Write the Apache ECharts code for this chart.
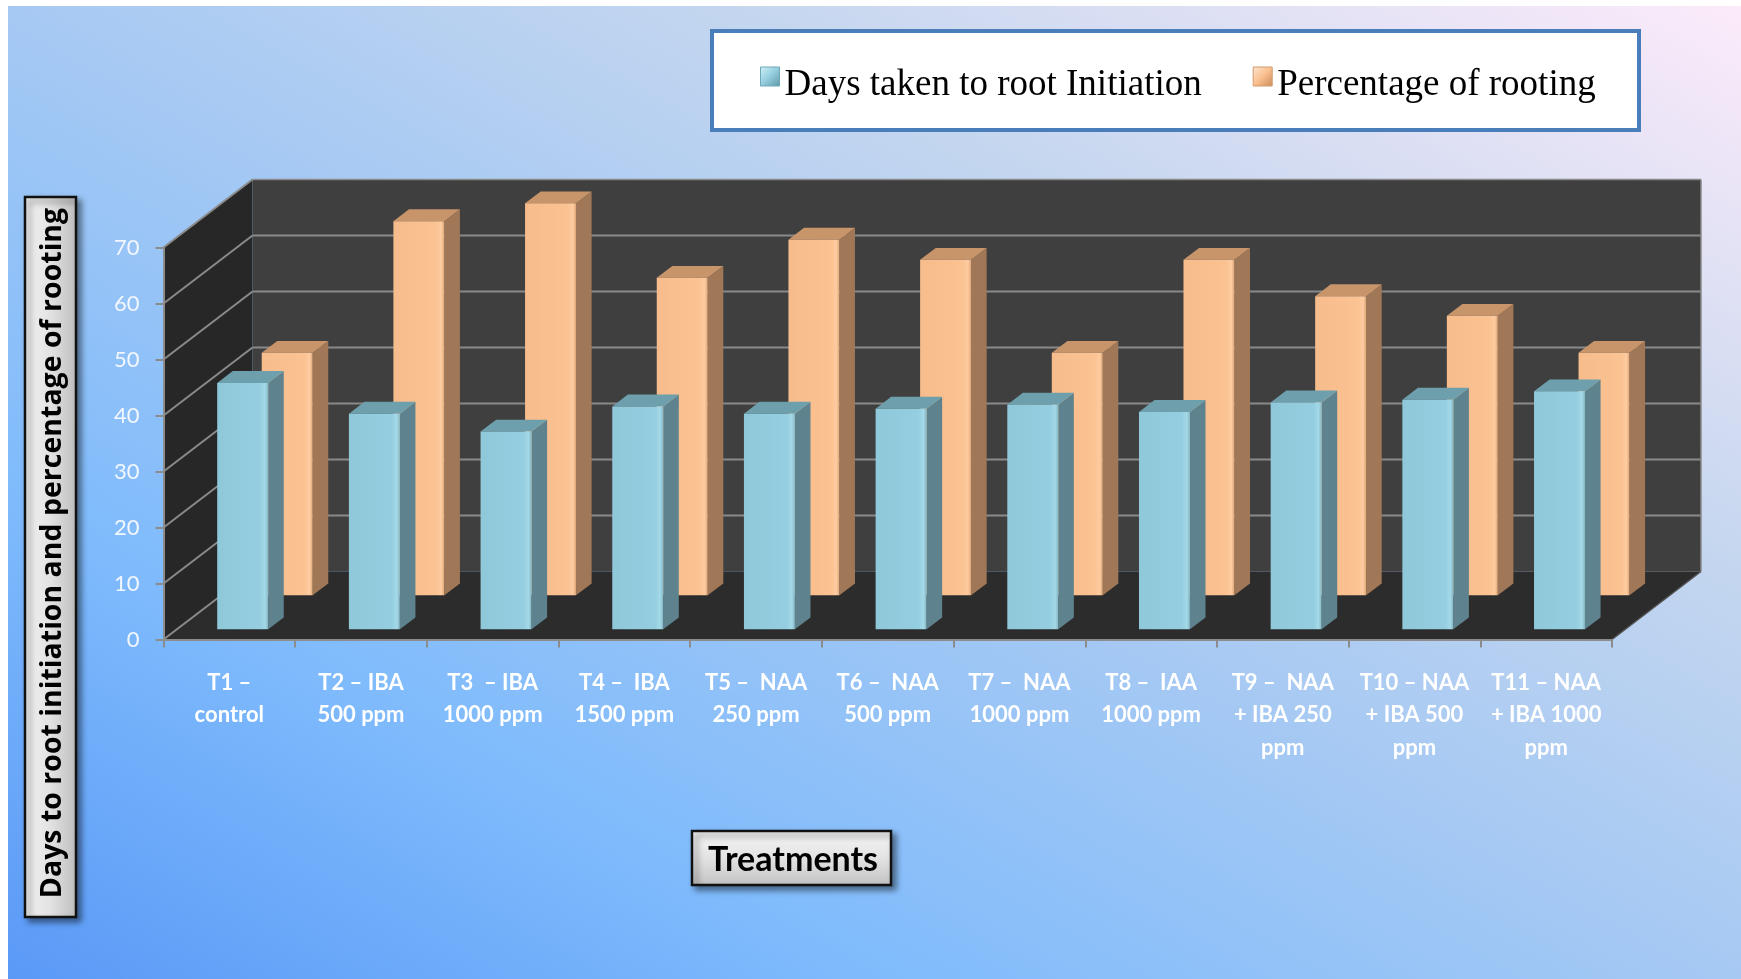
<!DOCTYPE html>
<html>
<head>
<meta charset="utf-8">
<title>Days to root initiation and percentage of rooting</title>
<script src="https://cdn.jsdelivr.net/npm/echarts@6/dist/echarts.min.js"></script>
<style>
  html, body { margin: 0; padding: 0; background: #fff; }
  #chart { width: 1741px; height: 979px; }
</style>
</head>
<body>
<div id="chart"></div>
<script>
// data
const categories = [
  'T1 –\ncontrol',
  'T2 – IBA\n500 ppm',
  'T3  – IBA\n1000 ppm',
  'T4 –  IBA\n1500 ppm',
  'T5 –  NAA\n250 ppm',
  'T6 –  NAA\n500 ppm',
  'T7 –  NAA\n1000 ppm',
  'T8 –  IAA\n1000 ppm',
  'T9 –  NAA\n+ IBA 250\nppm',
  'T10 – NAA\n+ IBA 500\nppm',
  'T11 – NAA\n+ IBA 1000\nppm'
];
const daysToRoot = [44.0, 38.5, 35.3, 39.8, 38.5, 39.4, 40.1, 38.8, 40.5, 41.0, 42.5];
const rootingPct = [43.3, 66.8, 70.0, 56.7, 63.5, 59.9, 43.3, 59.9, 53.4, 49.9, 43.3];
const yTicks = [0, 10, 20, 30, 40, 50, 60, 70];

const seriesNames = ['Days taken to root Initiation', 'Percentage of rooting'];

// fake 3d: full depth offset in px, rows as [front, back] fraction of depth
const DEPTH = [89, -68];
const ROW_FRONT = [0.15, 0.325];
const ROW_BACK = [0.65, 0.825];
const BAR_RATIO = 0.387;

const blueFaces = {
  front: { type: 'linear', x: 0, y: 0, x2: 1, y2: 0, colorStops: [
    { offset: 0, color: '#8fc8d9' }, { offset: 0.84, color: '#94cee0' },
    { offset: 0.94, color: '#a4d9e8' }, { offset: 1, color: '#84b6c4' }] },
  side: '#5e838e',
  top: '#6d9fad'
};
const orangeFaces = {
  front: { type: 'linear', x: 0, y: 0, x2: 1, y2: 0, colorStops: [
    { offset: 0, color: '#f7bc8b' }, { offset: 0.84, color: '#fbc292' },
    { offset: 0.94, color: '#fdcca1' }, { offset: 1, color: '#dea676' }] },
  side: '#a07858',
  top: '#c8956b'
};

function barRenderer(row, faces) {
  return function (params, api) {
    const i = api.value(0);
    const v = api.value(1);
    const band = api.size([1, 0])[0];
    const w = band * BAR_RATIO;
    const base = api.coord([i, 0]);
    const top = api.coord([i, v]);
    const ox = DEPTH[0] * row[0], oy = DEPTH[1] * row[0];
    const dx = DEPTH[0] * (row[1] - row[0]), dy = DEPTH[1] * (row[1] - row[0]);
    const xl = base[0] - w / 2 + ox, xr = xl + w;
    const yb = base[1] + oy, yt = top[1] + oy;
    return {
      type: 'group',
      children: [
        { type: 'polygon', shape: { points: [[xr, yb], [xr, yt], [xr + dx, yt + dy], [xr + dx, yb + dy]] },
          style: { fill: faces.side } },
        { type: 'polygon', shape: { points: [[xl, yt], [xr, yt], [xr + dx, yt + dy], [xl + dx, yt + dy]] },
          style: { fill: faces.top } },
        { type: 'rect', shape: { x: xl, y: yt, width: w, height: yb - yt },
          style: { fill: faces.front } }
      ]
    };
  };
}

// walls, floor and gridlines of the 3d box
function frameRenderer(params, api) {
  const cs = params.coordSys;
  const x0 = cs.x, x1 = cs.x + cs.width;
  const dx = DEPTH[0], dy = DEPTH[1];
  const y0 = api.coord([0, yTicks[0]])[1];
  const yT = api.coord([0, yTicks[yTicks.length - 1]])[1];
  const children = [
    { type: 'polygon', shape: { points: [[x0, y0], [x0, yT], [x0 + dx, yT + dy], [x0 + dx, y0 + dy]] },
      style: { fill: '#272727' } },
    { type: 'rect', shape: { x: x0 + dx, y: yT + dy, width: x1 - x0, height: y0 - yT },
      style: { fill: '#3f3f3f' } },
    { type: 'polygon', shape: { points: [[x0, y0], [x1, y0], [x1 + dx, y0 + dy], [x0 + dx, y0 + dy]] },
      style: { fill: '#2c2c2c' } }
  ];
  yTicks.forEach(function (t) {
    const y = api.coord([0, t])[1];
    children.push({ type: 'line', shape: { x1: x0, y1: y, x2: x0 + dx, y2: y + dy },
      style: { stroke: '#8a8a8a', lineWidth: 2 } });
    if (t > yTicks[0]) {
      children.push({ type: 'line', shape: { x1: x0 + dx, y1: y + dy, x2: x1 + dx, y2: y + dy },
        style: { stroke: '#8a8a8a', lineWidth: t === yTicks[yTicks.length - 1] ? 1.5 : 2 } });
    }
  });
  children.push({ type: 'line', shape: { x1: x1 + dx, y1: yT + dy, x2: x1 + dx, y2: y0 + dy },
    style: { stroke: '#8a8a8a', lineWidth: 1.5 } });
  children.push({ type: 'line', shape: { x1: x1, y1: y0, x2: x1 + dx, y2: y0 + dy },
    style: { stroke: '#555', lineWidth: 1.5 } });
  return { type: 'group', children: children };
}

const chart = echarts.init(document.getElementById('chart'));

const legendFont = '"Liberation Serif", "Times New Roman", serif';

const option = {
  animation: false,
  graphic: [
    { type: 'rect', z: -100, silent: true,
      shape: { x: 8, y: 6, width: 1733, height: 973 },
      style: { fill: { type: 'linear', x: 0, y: 1, x2: 0.479, y2: -0.521, colorStops: [
        { offset: 0, color: '#5a99f7' }, { offset: 0.25, color: '#7fbbfc' },
        { offset: 0.5, color: '#a6c9f3' }, { offset: 0.72, color: '#c6d7ef' },
        { offset: 1, color: '#fcebfa' }] } } },
    // legend frame
    { type: 'rect', z: 1, silent: true,
      shape: { x: 712, y: 31, width: 927, height: 99 },
      style: { fill: '#fff', stroke: '#4a7ebb', lineWidth: 4 } },
    // y axis title box
    { type: 'rect', z: 1, silent: true,
      shape: { x: 25, y: 197, width: 51, height: 720 },
      style: { fill: { type: 'linear', x: 0, y: 0, x2: 1, y2: 0, colorStops: [
        { offset: 0, color: '#f4f4f4' }, { offset: 0.5, color: '#e2e2e2' }, { offset: 1, color: '#bdbdbd' }] },
        stroke: '#111', lineWidth: 2.5,
        shadowBlur: 6, shadowOffsetX: 4, shadowOffsetY: 4, shadowColor: 'rgba(0,0,0,0.45)' } },
    { type: 'text', z: 2, silent: true, x: 53, y: 553, rotation: Math.PI / 2,
      style: { text: 'Days to root initiation and percentage of rooting', x: 0, y: 0,
        align: 'center', verticalAlign: 'middle', fill: '#000',
        font: 'bold 28.5px "Open Sans", sans-serif' } },
    // x axis title box
    { type: 'rect', z: 1, silent: true,
      shape: { x: 692, y: 831, width: 199, height: 54 },
      style: { fill: { type: 'linear', x: 0, y: 0, x2: 0, y2: 1, colorStops: [
        { offset: 0, color: '#f6f6f6' }, { offset: 0.5, color: '#e3e3e3' }, { offset: 1, color: '#c2c2c2' }] },
        stroke: '#111', lineWidth: 2.5,
        shadowBlur: 6, shadowOffsetX: 4, shadowOffsetY: 4, shadowColor: 'rgba(0,0,0,0.45)' } },
    { type: 'text', z: 2, silent: true, x: 793, y: 860,
      style: { text: 'Treatments', x: 0, y: 0, align: 'center', verticalAlign: 'middle',
        fill: '#000', font: 'bold 34px Lato, sans-serif' } }
  ],
  legend: {
    left: 760,
    top: 56,
    padding: 0,
    itemWidth: 19,
    itemHeight: 19,
    itemGap: 51,
    selectedMode: false,
    // blank first line pushes the label down next to the icon, as in the picture
    formatter: '{s| }\n{t|{name}}',
    textStyle: {
      fontFamily: legendFont, fontSize: 37, color: '#000',
      rich: {
        s: { fontFamily: legendFont, fontSize: 4, lineHeight: 18 },
        t: { fontFamily: legendFont, fontSize: 37, color: '#000', lineHeight: 37 }
      }
    },
    data: [
      { name: seriesNames[0], icon: 'rect', itemStyle: {
        color: { type: 'linear', x: 0, y: 0, x2: 1, y2: 1, colorStops: [
          { offset: 0, color: '#d2f1f8' }, { offset: 0.5, color: '#93cddd' }, { offset: 1, color: '#5e97a6' }] },
        borderColor: '#6fa9b8', borderWidth: 1 } },
      { name: seriesNames[1], icon: 'rect', itemStyle: {
        color: { type: 'linear', x: 0, y: 0, x2: 1, y2: 1, colorStops: [
          { offset: 0, color: '#fde6d2' }, { offset: 0.5, color: '#fac090' }, { offset: 1, color: '#c98a58' }] },
        borderColor: '#d29a6b', borderWidth: 1 } }
    ]
  },
  grid: {
    left: 163.5,
    top: 247.5,
    width: 1448.5,
    height: 392,
    outerBoundsMode: 'none'
  },
  xAxis: {
    type: 'category',
    data: categories,
    z: 10,
    axisLine: { show: true, lineStyle: { color: '#8c8c8c', width: 2 } },
    axisTick: { show: true, length: 8, lineStyle: { color: '#8c8c8c', width: 2 } },
    axisLabel: {
      interval: 0,
      color: '#ffffff',
      fontFamily: 'Lato',
      fontWeight: 'bold',
      fontSize: 22,
      lineHeight: 32.5,
      margin: 27
    },
    splitLine: { show: false }
  },
  yAxis: {
    type: 'value',
    min: yTicks[0],
    max: yTicks[yTicks.length - 1],
    interval: 10,
    z: 10,
    axisLine: { show: true, lineStyle: { color: '#8c8c8c', width: 2 } },
    axisTick: { show: true, length: 8, lineStyle: { color: '#8c8c8c', width: 2 } },
    axisLabel: { color: '#f3f7ff', fontFamily: 'Lato', fontSize: 22, margin: 24 },
    splitLine: { show: false }
  },
  series: [
    {
      name: 'frame',
      type: 'custom',
      z: 1,
      silent: true,
      renderItem: frameRenderer,
      data: [[0, 0]]
    },
    {
      name: seriesNames[1],
      type: 'custom',
      z: 2,
      silent: true,
      itemStyle: { color: '#fac090' },
      renderItem: barRenderer(ROW_BACK, orangeFaces),
      data: rootingPct.map(function (v, i) { return [i, v]; })
    },
    {
      name: seriesNames[0],
      type: 'custom',
      z: 3,
      silent: true,
      itemStyle: { color: '#93cddd' },
      renderItem: barRenderer(ROW_FRONT, blueFaces),
      data: daysToRoot.map(function (v, i) { return [i, v]; })
    }
  ]
};

chart.setOption(option);
</script>
</body>
</html>
